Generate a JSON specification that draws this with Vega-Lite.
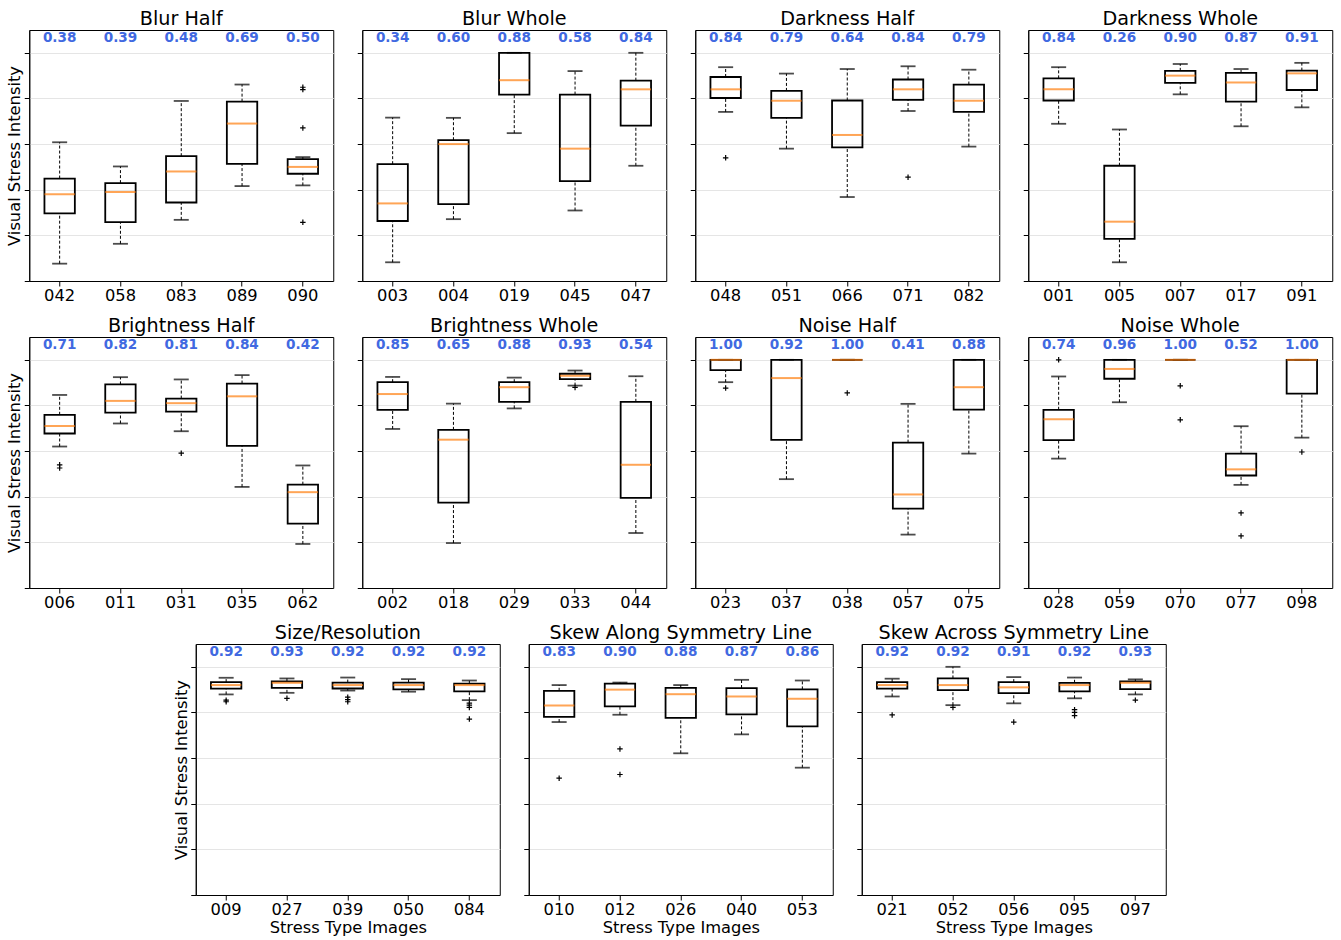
{
  "$schema": "https://vega.github.io/schema/vega-lite/v6.json",
  "background": "white",
  "padding": {"left": 6, "top": 9, "right": 4, "bottom": 3},
  "data": {"values": [
    {"p": "Blur Half", "img": "042", "lo": 0.076, "q1": 0.296, "med": 0.38, "q3": 0.449, "hi": 0.608},
    {"p": "Blur Half", "img": "058", "lo": 0.163, "q1": 0.258, "med": 0.39, "q3": 0.429, "hi": 0.502},
    {"p": "Blur Half", "img": "083", "lo": 0.268, "q1": 0.344, "med": 0.48, "q3": 0.547, "hi": 0.789},
    {"p": "Blur Half", "img": "089", "lo": 0.416, "q1": 0.513, "med": 0.69, "q3": 0.786, "hi": 0.861},
    {"p": "Blur Half", "img": "090", "lo": 0.419, "q1": 0.470, "med": 0.50, "q3": 0.534, "hi": 0.543},
    {"p": "Blur Half", "img": "090", "out": 0.849},
    {"p": "Blur Half", "img": "090", "out": 0.839},
    {"p": "Blur Half", "img": "090", "out": 0.671},
    {"p": "Blur Half", "img": "090", "out": 0.257},

    {"p": "Blur Whole", "img": "003", "lo": 0.082, "q1": 0.263, "med": 0.34, "q3": 0.512, "hi": 0.716},
    {"p": "Blur Whole", "img": "004", "lo": 0.271, "q1": 0.337, "med": 0.60, "q3": 0.617, "hi": 0.715},
    {"p": "Blur Whole", "img": "019", "lo": 0.648, "q1": 0.817, "med": 0.88, "q3": 1.0, "hi": 1.0},
    {"p": "Blur Whole", "img": "045", "lo": 0.309, "q1": 0.438, "med": 0.58, "q3": 0.817, "hi": 0.920},
    {"p": "Blur Whole", "img": "047", "lo": 0.505, "q1": 0.681, "med": 0.84, "q3": 0.878, "hi": 1.0},

    {"p": "Darkness Half", "img": "048", "lo": 0.741, "q1": 0.802, "med": 0.84, "q3": 0.894, "hi": 0.937},
    {"p": "Darkness Half", "img": "048", "out": 0.540},
    {"p": "Darkness Half", "img": "051", "lo": 0.580, "q1": 0.715, "med": 0.79, "q3": 0.833, "hi": 0.909},
    {"p": "Darkness Half", "img": "066", "lo": 0.368, "q1": 0.586, "med": 0.64, "q3": 0.791, "hi": 0.929},
    {"p": "Darkness Half", "img": "071", "lo": 0.745, "q1": 0.794, "med": 0.84, "q3": 0.883, "hi": 0.941},
    {"p": "Darkness Half", "img": "071", "out": 0.455},
    {"p": "Darkness Half", "img": "082", "lo": 0.589, "q1": 0.741, "med": 0.79, "q3": 0.861, "hi": 0.926},

    {"p": "Darkness Whole", "img": "001", "lo": 0.689, "q1": 0.791, "med": 0.84, "q3": 0.888, "hi": 0.937},
    {"p": "Darkness Whole", "img": "005", "lo": 0.082, "q1": 0.185, "med": 0.26, "q3": 0.505, "hi": 0.664},
    {"p": "Darkness Whole", "img": "007", "lo": 0.818, "q1": 0.868, "med": 0.90, "q3": 0.921, "hi": 0.951},
    {"p": "Darkness Whole", "img": "017", "lo": 0.678, "q1": 0.786, "med": 0.87, "q3": 0.912, "hi": 0.929},
    {"p": "Darkness Whole", "img": "091", "lo": 0.761, "q1": 0.837, "med": 0.91, "q3": 0.922, "hi": 0.956},

    {"p": "Brightness Half", "img": "006", "lo": 0.620, "q1": 0.677, "med": 0.71, "q3": 0.759, "hi": 0.846},
    {"p": "Brightness Half", "img": "006", "out": 0.540},
    {"p": "Brightness Half", "img": "006", "out": 0.526},
    {"p": "Brightness Half", "img": "011", "lo": 0.721, "q1": 0.769, "med": 0.82, "q3": 0.892, "hi": 0.924},
    {"p": "Brightness Half", "img": "031", "lo": 0.687, "q1": 0.773, "med": 0.81, "q3": 0.830, "hi": 0.914},
    {"p": "Brightness Half", "img": "031", "out": 0.591},
    {"p": "Brightness Half", "img": "035", "lo": 0.443, "q1": 0.623, "med": 0.84, "q3": 0.896, "hi": 0.933},
    {"p": "Brightness Half", "img": "062", "lo": 0.193, "q1": 0.282, "med": 0.42, "q3": 0.453, "hi": 0.537},

    {"p": "Brightness Whole", "img": "002", "lo": 0.697, "q1": 0.781, "med": 0.85, "q3": 0.902, "hi": 0.925},
    {"p": "Brightness Whole", "img": "018", "lo": 0.197, "q1": 0.374, "med": 0.65, "q3": 0.693, "hi": 0.808},
    {"p": "Brightness Whole", "img": "029", "lo": 0.787, "q1": 0.816, "med": 0.88, "q3": 0.902, "hi": 0.922},
    {"p": "Brightness Whole", "img": "033", "lo": 0.887, "q1": 0.915, "med": 0.93, "q3": 0.939, "hi": 0.953},
    {"p": "Brightness Whole", "img": "033", "out": 0.879},
    {"p": "Brightness Whole", "img": "044", "lo": 0.241, "q1": 0.395, "med": 0.54, "q3": 0.816, "hi": 0.928},

    {"p": "Noise Half", "img": "023", "lo": 0.902, "q1": 0.955, "med": 1.00, "q3": 1.0, "hi": 1.0},
    {"p": "Noise Half", "img": "023", "out": 0.876},
    {"p": "Noise Half", "img": "037", "lo": 0.477, "q1": 0.649, "med": 0.92, "q3": 1.0, "hi": 1.0},
    {"p": "Noise Half", "img": "038", "lo": 1.0, "q1": 1.0, "med": 1.00, "q3": 1.0, "hi": 1.0},
    {"p": "Noise Half", "img": "038", "out": 0.855},
    {"p": "Noise Half", "img": "057", "lo": 0.234, "q1": 0.348, "med": 0.41, "q3": 0.637, "hi": 0.807},
    {"p": "Noise Half", "img": "075", "lo": 0.589, "q1": 0.782, "med": 0.88, "q3": 1.0, "hi": 1.0},

    {"p": "Noise Whole", "img": "028", "lo": 0.567, "q1": 0.648, "med": 0.74, "q3": 0.781, "hi": 0.927},
    {"p": "Noise Whole", "img": "028", "out": 1.0},
    {"p": "Noise Whole", "img": "059", "lo": 0.814, "q1": 0.917, "med": 0.96, "q3": 1.0, "hi": 1.0},
    {"p": "Noise Whole", "img": "070", "lo": 1.0, "q1": 1.0, "med": 1.00, "q3": 1.0, "hi": 1.0},
    {"p": "Noise Whole", "img": "070", "out": 0.886},
    {"p": "Noise Whole", "img": "070", "out": 0.737},
    {"p": "Noise Whole", "img": "077", "lo": 0.452, "q1": 0.493, "med": 0.52, "q3": 0.589, "hi": 0.709},
    {"p": "Noise Whole", "img": "077", "out": 0.329},
    {"p": "Noise Whole", "img": "077", "out": 0.228},
    {"p": "Noise Whole", "img": "098", "lo": 0.659, "q1": 0.852, "med": 1.00, "q3": 1.0, "hi": 1.0},
    {"p": "Noise Whole", "img": "098", "out": 0.596},

    {"p": "Size/Resolution", "img": "009", "lo": 0.879, "q1": 0.904, "med": 0.92, "q3": 0.933, "hi": 0.952},
    {"p": "Size/Resolution", "img": "009", "out": 0.854},
    {"p": "Size/Resolution", "img": "009", "out": 0.847},
    {"p": "Size/Resolution", "img": "027", "lo": 0.886, "q1": 0.908, "med": 0.93, "q3": 0.936, "hi": 0.949},
    {"p": "Size/Resolution", "img": "027", "out": 0.862},
    {"p": "Size/Resolution", "img": "039", "lo": 0.896, "q1": 0.905, "med": 0.92, "q3": 0.931, "hi": 0.953},
    {"p": "Size/Resolution", "img": "039", "out": 0.867},
    {"p": "Size/Resolution", "img": "039", "out": 0.856},
    {"p": "Size/Resolution", "img": "039", "out": 0.847},
    {"p": "Size/Resolution", "img": "050", "lo": 0.891, "q1": 0.901, "med": 0.92, "q3": 0.931, "hi": 0.946},
    {"p": "Size/Resolution", "img": "084", "lo": 0.854, "q1": 0.892, "med": 0.92, "q3": 0.926, "hi": 0.940},
    {"p": "Size/Resolution", "img": "084", "out": 0.841},
    {"p": "Size/Resolution", "img": "084", "out": 0.832},
    {"p": "Size/Resolution", "img": "084", "out": 0.822},
    {"p": "Size/Resolution", "img": "084", "out": 0.771},

    {"p": "Skew Along Symmetry Line", "img": "010", "lo": 0.758, "q1": 0.781, "med": 0.83, "q3": 0.895, "hi": 0.920},
    {"p": "Skew Along Symmetry Line", "img": "010", "out": 0.512},
    {"p": "Skew Along Symmetry Line", "img": "012", "lo": 0.790, "q1": 0.827, "med": 0.90, "q3": 0.926, "hi": 0.931},
    {"p": "Skew Along Symmetry Line", "img": "012", "out": 0.640},
    {"p": "Skew Along Symmetry Line", "img": "012", "out": 0.528},
    {"p": "Skew Along Symmetry Line", "img": "026", "lo": 0.621, "q1": 0.776, "med": 0.88, "q3": 0.908, "hi": 0.920},
    {"p": "Skew Along Symmetry Line", "img": "040", "lo": 0.704, "q1": 0.792, "med": 0.87, "q3": 0.907, "hi": 0.943},
    {"p": "Skew Along Symmetry Line", "img": "053", "lo": 0.558, "q1": 0.739, "med": 0.86, "q3": 0.901, "hi": 0.940},

    {"p": "Skew Across Symmetry Line", "img": "021", "lo": 0.870, "q1": 0.904, "med": 0.92, "q3": 0.933, "hi": 0.948},
    {"p": "Skew Across Symmetry Line", "img": "021", "out": 0.789},
    {"p": "Skew Across Symmetry Line", "img": "052", "lo": 0.832, "q1": 0.898, "med": 0.92, "q3": 0.949, "hi": 1.0},
    {"p": "Skew Across Symmetry Line", "img": "052", "out": 0.822},
    {"p": "Skew Across Symmetry Line", "img": "056", "lo": 0.840, "q1": 0.885, "med": 0.91, "q3": 0.933, "hi": 0.955},
    {"p": "Skew Across Symmetry Line", "img": "056", "out": 0.758},
    {"p": "Skew Across Symmetry Line", "img": "095", "lo": 0.862, "q1": 0.892, "med": 0.92, "q3": 0.930, "hi": 0.953},
    {"p": "Skew Across Symmetry Line", "img": "095", "out": 0.812},
    {"p": "Skew Across Symmetry Line", "img": "095", "out": 0.800},
    {"p": "Skew Across Symmetry Line", "img": "095", "out": 0.786},
    {"p": "Skew Across Symmetry Line", "img": "097", "lo": 0.879, "q1": 0.902, "med": 0.93, "q3": 0.936, "hi": 0.945},
    {"p": "Skew Across Symmetry Line", "img": "097", "out": 0.854}
  ]},
  "spacing": 12,
  "center": true,
  "vconcat": [
    {"spacing": 22, "hconcat": [
      {"title": "Blur Half", "width": 304, "height": 251,
       "transform": [{"filter": "datum.p == 'Blur Half'"}],
       "encoding": {"x": {"field": "img", "type": "nominal", "title": null, "scale": {"paddingInner": 0, "paddingOuter": 0}}},
       "layer": [
        {"transform": [{"filter": "isValid(datum.med)"}], "layer": [
          {"mark": {"type": "rule", "color": "black", "strokeWidth": 1, "strokeDash": [3, 2]}, "encoding": {"y": {"field": "lo", "type": "quantitative", "scale": {"domain": [0, 1.1], "nice": false}, "title": "Visual Stress Intensity"}, "y2": {"field": "q1"}}},
          {"mark": {"type": "rule", "color": "black", "strokeWidth": 1, "strokeDash": [3, 2]}, "encoding": {"y": {"field": "q3", "type": "quantitative", "scale": {"domain": [0, 1.1], "nice": false}, "title": "Visual Stress Intensity"}, "y2": {"field": "hi"}}},
          {"mark": {"type": "tick", "color": "black", "size": 15, "thickness": 1.8}, "encoding": {"y": {"field": "lo", "type": "quantitative", "scale": {"domain": [0, 1.1], "nice": false}, "title": "Visual Stress Intensity"}}},
          {"mark": {"type": "tick", "color": "black", "size": 15, "thickness": 1.8}, "encoding": {"y": {"field": "hi", "type": "quantitative", "scale": {"domain": [0, 1.1], "nice": false}, "title": "Visual Stress Intensity"}}},
          {"mark": {"type": "bar", "width": {"band": 0.5}, "fillOpacity": 0, "stroke": "black", "strokeWidth": 1.8}, "encoding": {"y": {"field": "q1", "type": "quantitative", "scale": {"domain": [0, 1.1], "nice": false}, "title": "Visual Stress Intensity"}, "y2": {"field": "q3"}}},
          {"mark": {"type": "tick", "color": "#ff7f0e", "size": 30.4, "thickness": 2}, "encoding": {"y": {"field": "med", "type": "quantitative", "scale": {"domain": [0, 1.1], "nice": false}, "title": "Visual Stress Intensity"}}},
          {"mark": {"type": "text", "color": "#4169e1", "fontWeight": "bold", "fontSize": 13.6}, "encoding": {"y": {"datum": 1.065, "type": "quantitative", "scale": {"domain": [0, 1.1], "nice": false}, "title": "Visual Stress Intensity"}, "text": {"field": "med", "type": "quantitative", "format": ".2f"}}}
        ]},
        {"transform": [{"filter": "isValid(datum.out)"}], "mark": {"type": "point", "shape": "M-1,0H1M0,-1V1", "filled": false, "color": "black", "size": 30, "strokeWidth": 1.2, "opacity": 1}, "encoding": {"y": {"field": "out", "type": "quantitative", "scale": {"domain": [0, 1.1], "nice": false}, "title": "Visual Stress Intensity"}}}
       ]},
      {"title": "Blur Whole", "width": 304, "height": 251,
       "transform": [{"filter": "datum.p == 'Blur Whole'"}],
       "encoding": {"x": {"field": "img", "type": "nominal", "title": null, "scale": {"paddingInner": 0, "paddingOuter": 0}}},
       "layer": [
        {"transform": [{"filter": "isValid(datum.med)"}], "layer": [
          {"mark": {"type": "rule", "color": "black", "strokeWidth": 1, "strokeDash": [3, 2]}, "encoding": {"y": {"field": "lo", "type": "quantitative", "scale": {"domain": [0, 1.1], "nice": false}, "title": null}, "y2": {"field": "q1"}}},
          {"mark": {"type": "rule", "color": "black", "strokeWidth": 1, "strokeDash": [3, 2]}, "encoding": {"y": {"field": "q3", "type": "quantitative", "scale": {"domain": [0, 1.1], "nice": false}, "title": null}, "y2": {"field": "hi"}}},
          {"mark": {"type": "tick", "color": "black", "size": 15, "thickness": 1.8}, "encoding": {"y": {"field": "lo", "type": "quantitative", "scale": {"domain": [0, 1.1], "nice": false}, "title": null}}},
          {"mark": {"type": "tick", "color": "black", "size": 15, "thickness": 1.8}, "encoding": {"y": {"field": "hi", "type": "quantitative", "scale": {"domain": [0, 1.1], "nice": false}, "title": null}}},
          {"mark": {"type": "bar", "width": {"band": 0.5}, "fillOpacity": 0, "stroke": "black", "strokeWidth": 1.8}, "encoding": {"y": {"field": "q1", "type": "quantitative", "scale": {"domain": [0, 1.1], "nice": false}, "title": null}, "y2": {"field": "q3"}}},
          {"mark": {"type": "tick", "color": "#ff7f0e", "size": 30.4, "thickness": 2}, "encoding": {"y": {"field": "med", "type": "quantitative", "scale": {"domain": [0, 1.1], "nice": false}, "title": null}}},
          {"mark": {"type": "text", "color": "#4169e1", "fontWeight": "bold", "fontSize": 13.6}, "encoding": {"y": {"datum": 1.065, "type": "quantitative", "scale": {"domain": [0, 1.1], "nice": false}, "title": null}, "text": {"field": "med", "type": "quantitative", "format": ".2f"}}}
        ]},
        {"transform": [{"filter": "isValid(datum.out)"}], "mark": {"type": "point", "shape": "M-1,0H1M0,-1V1", "filled": false, "color": "black", "size": 30, "strokeWidth": 1.2, "opacity": 1}, "encoding": {"y": {"field": "out", "type": "quantitative", "scale": {"domain": [0, 1.1], "nice": false}, "title": null}}}
       ]},
      {"title": "Darkness Half", "width": 304, "height": 251,
       "transform": [{"filter": "datum.p == 'Darkness Half'"}],
       "encoding": {"x": {"field": "img", "type": "nominal", "title": null, "scale": {"paddingInner": 0, "paddingOuter": 0}}},
       "layer": [
        {"transform": [{"filter": "isValid(datum.med)"}], "layer": [
          {"mark": {"type": "rule", "color": "black", "strokeWidth": 1, "strokeDash": [3, 2]}, "encoding": {"y": {"field": "lo", "type": "quantitative", "scale": {"domain": [0, 1.1], "nice": false}, "title": null}, "y2": {"field": "q1"}}},
          {"mark": {"type": "rule", "color": "black", "strokeWidth": 1, "strokeDash": [3, 2]}, "encoding": {"y": {"field": "q3", "type": "quantitative", "scale": {"domain": [0, 1.1], "nice": false}, "title": null}, "y2": {"field": "hi"}}},
          {"mark": {"type": "tick", "color": "black", "size": 15, "thickness": 1.8}, "encoding": {"y": {"field": "lo", "type": "quantitative", "scale": {"domain": [0, 1.1], "nice": false}, "title": null}}},
          {"mark": {"type": "tick", "color": "black", "size": 15, "thickness": 1.8}, "encoding": {"y": {"field": "hi", "type": "quantitative", "scale": {"domain": [0, 1.1], "nice": false}, "title": null}}},
          {"mark": {"type": "bar", "width": {"band": 0.5}, "fillOpacity": 0, "stroke": "black", "strokeWidth": 1.8}, "encoding": {"y": {"field": "q1", "type": "quantitative", "scale": {"domain": [0, 1.1], "nice": false}, "title": null}, "y2": {"field": "q3"}}},
          {"mark": {"type": "tick", "color": "#ff7f0e", "size": 30.4, "thickness": 2}, "encoding": {"y": {"field": "med", "type": "quantitative", "scale": {"domain": [0, 1.1], "nice": false}, "title": null}}},
          {"mark": {"type": "text", "color": "#4169e1", "fontWeight": "bold", "fontSize": 13.6}, "encoding": {"y": {"datum": 1.065, "type": "quantitative", "scale": {"domain": [0, 1.1], "nice": false}, "title": null}, "text": {"field": "med", "type": "quantitative", "format": ".2f"}}}
        ]},
        {"transform": [{"filter": "isValid(datum.out)"}], "mark": {"type": "point", "shape": "M-1,0H1M0,-1V1", "filled": false, "color": "black", "size": 30, "strokeWidth": 1.2, "opacity": 1}, "encoding": {"y": {"field": "out", "type": "quantitative", "scale": {"domain": [0, 1.1], "nice": false}, "title": null}}}
       ]},
      {"title": "Darkness Whole", "width": 304, "height": 251,
       "transform": [{"filter": "datum.p == 'Darkness Whole'"}],
       "encoding": {"x": {"field": "img", "type": "nominal", "title": null, "scale": {"paddingInner": 0, "paddingOuter": 0}}},
       "layer": [
        {"transform": [{"filter": "isValid(datum.med)"}], "layer": [
          {"mark": {"type": "rule", "color": "black", "strokeWidth": 1, "strokeDash": [3, 2]}, "encoding": {"y": {"field": "lo", "type": "quantitative", "scale": {"domain": [0, 1.1], "nice": false}, "title": null}, "y2": {"field": "q1"}}},
          {"mark": {"type": "rule", "color": "black", "strokeWidth": 1, "strokeDash": [3, 2]}, "encoding": {"y": {"field": "q3", "type": "quantitative", "scale": {"domain": [0, 1.1], "nice": false}, "title": null}, "y2": {"field": "hi"}}},
          {"mark": {"type": "tick", "color": "black", "size": 15, "thickness": 1.8}, "encoding": {"y": {"field": "lo", "type": "quantitative", "scale": {"domain": [0, 1.1], "nice": false}, "title": null}}},
          {"mark": {"type": "tick", "color": "black", "size": 15, "thickness": 1.8}, "encoding": {"y": {"field": "hi", "type": "quantitative", "scale": {"domain": [0, 1.1], "nice": false}, "title": null}}},
          {"mark": {"type": "bar", "width": {"band": 0.5}, "fillOpacity": 0, "stroke": "black", "strokeWidth": 1.8}, "encoding": {"y": {"field": "q1", "type": "quantitative", "scale": {"domain": [0, 1.1], "nice": false}, "title": null}, "y2": {"field": "q3"}}},
          {"mark": {"type": "tick", "color": "#ff7f0e", "size": 30.4, "thickness": 2}, "encoding": {"y": {"field": "med", "type": "quantitative", "scale": {"domain": [0, 1.1], "nice": false}, "title": null}}},
          {"mark": {"type": "text", "color": "#4169e1", "fontWeight": "bold", "fontSize": 13.6}, "encoding": {"y": {"datum": 1.065, "type": "quantitative", "scale": {"domain": [0, 1.1], "nice": false}, "title": null}, "text": {"field": "med", "type": "quantitative", "format": ".2f"}}}
        ]},
        {"transform": [{"filter": "isValid(datum.out)"}], "mark": {"type": "point", "shape": "M-1,0H1M0,-1V1", "filled": false, "color": "black", "size": 30, "strokeWidth": 1.2, "opacity": 1}, "encoding": {"y": {"field": "out", "type": "quantitative", "scale": {"domain": [0, 1.1], "nice": false}, "title": null}}}
       ]}
    ]},
    {"spacing": 22, "hconcat": [
      {"title": "Brightness Half", "width": 304, "height": 251,
       "transform": [{"filter": "datum.p == 'Brightness Half'"}],
       "encoding": {"x": {"field": "img", "type": "nominal", "title": null, "scale": {"paddingInner": 0, "paddingOuter": 0}}},
       "layer": [
        {"transform": [{"filter": "isValid(datum.med)"}], "layer": [
          {"mark": {"type": "rule", "color": "black", "strokeWidth": 1, "strokeDash": [3, 2]}, "encoding": {"y": {"field": "lo", "type": "quantitative", "scale": {"domain": [0, 1.1], "nice": false}, "title": "Visual Stress Intensity"}, "y2": {"field": "q1"}}},
          {"mark": {"type": "rule", "color": "black", "strokeWidth": 1, "strokeDash": [3, 2]}, "encoding": {"y": {"field": "q3", "type": "quantitative", "scale": {"domain": [0, 1.1], "nice": false}, "title": "Visual Stress Intensity"}, "y2": {"field": "hi"}}},
          {"mark": {"type": "tick", "color": "black", "size": 15, "thickness": 1.8}, "encoding": {"y": {"field": "lo", "type": "quantitative", "scale": {"domain": [0, 1.1], "nice": false}, "title": "Visual Stress Intensity"}}},
          {"mark": {"type": "tick", "color": "black", "size": 15, "thickness": 1.8}, "encoding": {"y": {"field": "hi", "type": "quantitative", "scale": {"domain": [0, 1.1], "nice": false}, "title": "Visual Stress Intensity"}}},
          {"mark": {"type": "bar", "width": {"band": 0.5}, "fillOpacity": 0, "stroke": "black", "strokeWidth": 1.8}, "encoding": {"y": {"field": "q1", "type": "quantitative", "scale": {"domain": [0, 1.1], "nice": false}, "title": "Visual Stress Intensity"}, "y2": {"field": "q3"}}},
          {"mark": {"type": "tick", "color": "#ff7f0e", "size": 30.4, "thickness": 2}, "encoding": {"y": {"field": "med", "type": "quantitative", "scale": {"domain": [0, 1.1], "nice": false}, "title": "Visual Stress Intensity"}}},
          {"mark": {"type": "text", "color": "#4169e1", "fontWeight": "bold", "fontSize": 13.6}, "encoding": {"y": {"datum": 1.065, "type": "quantitative", "scale": {"domain": [0, 1.1], "nice": false}, "title": "Visual Stress Intensity"}, "text": {"field": "med", "type": "quantitative", "format": ".2f"}}}
        ]},
        {"transform": [{"filter": "isValid(datum.out)"}], "mark": {"type": "point", "shape": "M-1,0H1M0,-1V1", "filled": false, "color": "black", "size": 30, "strokeWidth": 1.2, "opacity": 1}, "encoding": {"y": {"field": "out", "type": "quantitative", "scale": {"domain": [0, 1.1], "nice": false}, "title": "Visual Stress Intensity"}}}
       ]},
      {"title": "Brightness Whole", "width": 304, "height": 251,
       "transform": [{"filter": "datum.p == 'Brightness Whole'"}],
       "encoding": {"x": {"field": "img", "type": "nominal", "title": null, "scale": {"paddingInner": 0, "paddingOuter": 0}}},
       "layer": [
        {"transform": [{"filter": "isValid(datum.med)"}], "layer": [
          {"mark": {"type": "rule", "color": "black", "strokeWidth": 1, "strokeDash": [3, 2]}, "encoding": {"y": {"field": "lo", "type": "quantitative", "scale": {"domain": [0, 1.1], "nice": false}, "title": null}, "y2": {"field": "q1"}}},
          {"mark": {"type": "rule", "color": "black", "strokeWidth": 1, "strokeDash": [3, 2]}, "encoding": {"y": {"field": "q3", "type": "quantitative", "scale": {"domain": [0, 1.1], "nice": false}, "title": null}, "y2": {"field": "hi"}}},
          {"mark": {"type": "tick", "color": "black", "size": 15, "thickness": 1.8}, "encoding": {"y": {"field": "lo", "type": "quantitative", "scale": {"domain": [0, 1.1], "nice": false}, "title": null}}},
          {"mark": {"type": "tick", "color": "black", "size": 15, "thickness": 1.8}, "encoding": {"y": {"field": "hi", "type": "quantitative", "scale": {"domain": [0, 1.1], "nice": false}, "title": null}}},
          {"mark": {"type": "bar", "width": {"band": 0.5}, "fillOpacity": 0, "stroke": "black", "strokeWidth": 1.8}, "encoding": {"y": {"field": "q1", "type": "quantitative", "scale": {"domain": [0, 1.1], "nice": false}, "title": null}, "y2": {"field": "q3"}}},
          {"mark": {"type": "tick", "color": "#ff7f0e", "size": 30.4, "thickness": 2}, "encoding": {"y": {"field": "med", "type": "quantitative", "scale": {"domain": [0, 1.1], "nice": false}, "title": null}}},
          {"mark": {"type": "text", "color": "#4169e1", "fontWeight": "bold", "fontSize": 13.6}, "encoding": {"y": {"datum": 1.065, "type": "quantitative", "scale": {"domain": [0, 1.1], "nice": false}, "title": null}, "text": {"field": "med", "type": "quantitative", "format": ".2f"}}}
        ]},
        {"transform": [{"filter": "isValid(datum.out)"}], "mark": {"type": "point", "shape": "M-1,0H1M0,-1V1", "filled": false, "color": "black", "size": 30, "strokeWidth": 1.2, "opacity": 1}, "encoding": {"y": {"field": "out", "type": "quantitative", "scale": {"domain": [0, 1.1], "nice": false}, "title": null}}}
       ]},
      {"title": "Noise Half", "width": 304, "height": 251,
       "transform": [{"filter": "datum.p == 'Noise Half'"}],
       "encoding": {"x": {"field": "img", "type": "nominal", "title": null, "scale": {"paddingInner": 0, "paddingOuter": 0}}},
       "layer": [
        {"transform": [{"filter": "isValid(datum.med)"}], "layer": [
          {"mark": {"type": "rule", "color": "black", "strokeWidth": 1, "strokeDash": [3, 2]}, "encoding": {"y": {"field": "lo", "type": "quantitative", "scale": {"domain": [0, 1.1], "nice": false}, "title": null}, "y2": {"field": "q1"}}},
          {"mark": {"type": "rule", "color": "black", "strokeWidth": 1, "strokeDash": [3, 2]}, "encoding": {"y": {"field": "q3", "type": "quantitative", "scale": {"domain": [0, 1.1], "nice": false}, "title": null}, "y2": {"field": "hi"}}},
          {"mark": {"type": "tick", "color": "black", "size": 15, "thickness": 1.8}, "encoding": {"y": {"field": "lo", "type": "quantitative", "scale": {"domain": [0, 1.1], "nice": false}, "title": null}}},
          {"mark": {"type": "tick", "color": "black", "size": 15, "thickness": 1.8}, "encoding": {"y": {"field": "hi", "type": "quantitative", "scale": {"domain": [0, 1.1], "nice": false}, "title": null}}},
          {"mark": {"type": "bar", "width": {"band": 0.5}, "fillOpacity": 0, "stroke": "black", "strokeWidth": 1.8}, "encoding": {"y": {"field": "q1", "type": "quantitative", "scale": {"domain": [0, 1.1], "nice": false}, "title": null}, "y2": {"field": "q3"}}},
          {"mark": {"type": "tick", "color": "#ff7f0e", "size": 30.4, "thickness": 2}, "encoding": {"y": {"field": "med", "type": "quantitative", "scale": {"domain": [0, 1.1], "nice": false}, "title": null}}},
          {"mark": {"type": "text", "color": "#4169e1", "fontWeight": "bold", "fontSize": 13.6}, "encoding": {"y": {"datum": 1.065, "type": "quantitative", "scale": {"domain": [0, 1.1], "nice": false}, "title": null}, "text": {"field": "med", "type": "quantitative", "format": ".2f"}}}
        ]},
        {"transform": [{"filter": "isValid(datum.out)"}], "mark": {"type": "point", "shape": "M-1,0H1M0,-1V1", "filled": false, "color": "black", "size": 30, "strokeWidth": 1.2, "opacity": 1}, "encoding": {"y": {"field": "out", "type": "quantitative", "scale": {"domain": [0, 1.1], "nice": false}, "title": null}}}
       ]},
      {"title": "Noise Whole", "width": 304, "height": 251,
       "transform": [{"filter": "datum.p == 'Noise Whole'"}],
       "encoding": {"x": {"field": "img", "type": "nominal", "title": null, "scale": {"paddingInner": 0, "paddingOuter": 0}}},
       "layer": [
        {"transform": [{"filter": "isValid(datum.med)"}], "layer": [
          {"mark": {"type": "rule", "color": "black", "strokeWidth": 1, "strokeDash": [3, 2]}, "encoding": {"y": {"field": "lo", "type": "quantitative", "scale": {"domain": [0, 1.1], "nice": false}, "title": null}, "y2": {"field": "q1"}}},
          {"mark": {"type": "rule", "color": "black", "strokeWidth": 1, "strokeDash": [3, 2]}, "encoding": {"y": {"field": "q3", "type": "quantitative", "scale": {"domain": [0, 1.1], "nice": false}, "title": null}, "y2": {"field": "hi"}}},
          {"mark": {"type": "tick", "color": "black", "size": 15, "thickness": 1.8}, "encoding": {"y": {"field": "lo", "type": "quantitative", "scale": {"domain": [0, 1.1], "nice": false}, "title": null}}},
          {"mark": {"type": "tick", "color": "black", "size": 15, "thickness": 1.8}, "encoding": {"y": {"field": "hi", "type": "quantitative", "scale": {"domain": [0, 1.1], "nice": false}, "title": null}}},
          {"mark": {"type": "bar", "width": {"band": 0.5}, "fillOpacity": 0, "stroke": "black", "strokeWidth": 1.8}, "encoding": {"y": {"field": "q1", "type": "quantitative", "scale": {"domain": [0, 1.1], "nice": false}, "title": null}, "y2": {"field": "q3"}}},
          {"mark": {"type": "tick", "color": "#ff7f0e", "size": 30.4, "thickness": 2}, "encoding": {"y": {"field": "med", "type": "quantitative", "scale": {"domain": [0, 1.1], "nice": false}, "title": null}}},
          {"mark": {"type": "text", "color": "#4169e1", "fontWeight": "bold", "fontSize": 13.6}, "encoding": {"y": {"datum": 1.065, "type": "quantitative", "scale": {"domain": [0, 1.1], "nice": false}, "title": null}, "text": {"field": "med", "type": "quantitative", "format": ".2f"}}}
        ]},
        {"transform": [{"filter": "isValid(datum.out)"}], "mark": {"type": "point", "shape": "M-1,0H1M0,-1V1", "filled": false, "color": "black", "size": 30, "strokeWidth": 1.2, "opacity": 1}, "encoding": {"y": {"field": "out", "type": "quantitative", "scale": {"domain": [0, 1.1], "nice": false}, "title": null}}}
       ]}
    ]},
    {"spacing": 22, "hconcat": [
      {"title": "Size/Resolution", "width": 304, "height": 251,
       "transform": [{"filter": "datum.p == 'Size/Resolution'"}],
       "encoding": {"x": {"field": "img", "type": "nominal", "title": "Stress Type Images", "scale": {"paddingInner": 0, "paddingOuter": 0}}},
       "layer": [
        {"transform": [{"filter": "isValid(datum.med)"}], "layer": [
          {"mark": {"type": "rule", "color": "black", "strokeWidth": 1, "strokeDash": [3, 2]}, "encoding": {"y": {"field": "lo", "type": "quantitative", "scale": {"domain": [0, 1.1], "nice": false}, "title": "Visual Stress Intensity"}, "y2": {"field": "q1"}}},
          {"mark": {"type": "rule", "color": "black", "strokeWidth": 1, "strokeDash": [3, 2]}, "encoding": {"y": {"field": "q3", "type": "quantitative", "scale": {"domain": [0, 1.1], "nice": false}, "title": "Visual Stress Intensity"}, "y2": {"field": "hi"}}},
          {"mark": {"type": "tick", "color": "black", "size": 15, "thickness": 1.8}, "encoding": {"y": {"field": "lo", "type": "quantitative", "scale": {"domain": [0, 1.1], "nice": false}, "title": "Visual Stress Intensity"}}},
          {"mark": {"type": "tick", "color": "black", "size": 15, "thickness": 1.8}, "encoding": {"y": {"field": "hi", "type": "quantitative", "scale": {"domain": [0, 1.1], "nice": false}, "title": "Visual Stress Intensity"}}},
          {"mark": {"type": "bar", "width": {"band": 0.5}, "fillOpacity": 0, "stroke": "black", "strokeWidth": 1.8}, "encoding": {"y": {"field": "q1", "type": "quantitative", "scale": {"domain": [0, 1.1], "nice": false}, "title": "Visual Stress Intensity"}, "y2": {"field": "q3"}}},
          {"mark": {"type": "tick", "color": "#ff7f0e", "size": 30.4, "thickness": 2}, "encoding": {"y": {"field": "med", "type": "quantitative", "scale": {"domain": [0, 1.1], "nice": false}, "title": "Visual Stress Intensity"}}},
          {"mark": {"type": "text", "color": "#4169e1", "fontWeight": "bold", "fontSize": 13.6}, "encoding": {"y": {"datum": 1.065, "type": "quantitative", "scale": {"domain": [0, 1.1], "nice": false}, "title": "Visual Stress Intensity"}, "text": {"field": "med", "type": "quantitative", "format": ".2f"}}}
        ]},
        {"transform": [{"filter": "isValid(datum.out)"}], "mark": {"type": "point", "shape": "M-1,0H1M0,-1V1", "filled": false, "color": "black", "size": 30, "strokeWidth": 1.2, "opacity": 1}, "encoding": {"y": {"field": "out", "type": "quantitative", "scale": {"domain": [0, 1.1], "nice": false}, "title": "Visual Stress Intensity"}}}
       ]},
      {"title": "Skew Along Symmetry Line", "width": 304, "height": 251,
       "transform": [{"filter": "datum.p == 'Skew Along Symmetry Line'"}],
       "encoding": {"x": {"field": "img", "type": "nominal", "title": "Stress Type Images", "scale": {"paddingInner": 0, "paddingOuter": 0}}},
       "layer": [
        {"transform": [{"filter": "isValid(datum.med)"}], "layer": [
          {"mark": {"type": "rule", "color": "black", "strokeWidth": 1, "strokeDash": [3, 2]}, "encoding": {"y": {"field": "lo", "type": "quantitative", "scale": {"domain": [0, 1.1], "nice": false}, "title": null}, "y2": {"field": "q1"}}},
          {"mark": {"type": "rule", "color": "black", "strokeWidth": 1, "strokeDash": [3, 2]}, "encoding": {"y": {"field": "q3", "type": "quantitative", "scale": {"domain": [0, 1.1], "nice": false}, "title": null}, "y2": {"field": "hi"}}},
          {"mark": {"type": "tick", "color": "black", "size": 15, "thickness": 1.8}, "encoding": {"y": {"field": "lo", "type": "quantitative", "scale": {"domain": [0, 1.1], "nice": false}, "title": null}}},
          {"mark": {"type": "tick", "color": "black", "size": 15, "thickness": 1.8}, "encoding": {"y": {"field": "hi", "type": "quantitative", "scale": {"domain": [0, 1.1], "nice": false}, "title": null}}},
          {"mark": {"type": "bar", "width": {"band": 0.5}, "fillOpacity": 0, "stroke": "black", "strokeWidth": 1.8}, "encoding": {"y": {"field": "q1", "type": "quantitative", "scale": {"domain": [0, 1.1], "nice": false}, "title": null}, "y2": {"field": "q3"}}},
          {"mark": {"type": "tick", "color": "#ff7f0e", "size": 30.4, "thickness": 2}, "encoding": {"y": {"field": "med", "type": "quantitative", "scale": {"domain": [0, 1.1], "nice": false}, "title": null}}},
          {"mark": {"type": "text", "color": "#4169e1", "fontWeight": "bold", "fontSize": 13.6}, "encoding": {"y": {"datum": 1.065, "type": "quantitative", "scale": {"domain": [0, 1.1], "nice": false}, "title": null}, "text": {"field": "med", "type": "quantitative", "format": ".2f"}}}
        ]},
        {"transform": [{"filter": "isValid(datum.out)"}], "mark": {"type": "point", "shape": "M-1,0H1M0,-1V1", "filled": false, "color": "black", "size": 30, "strokeWidth": 1.2, "opacity": 1}, "encoding": {"y": {"field": "out", "type": "quantitative", "scale": {"domain": [0, 1.1], "nice": false}, "title": null}}}
       ]},
      {"title": "Skew Across Symmetry Line", "width": 304, "height": 251,
       "transform": [{"filter": "datum.p == 'Skew Across Symmetry Line'"}],
       "encoding": {"x": {"field": "img", "type": "nominal", "title": "Stress Type Images", "scale": {"paddingInner": 0, "paddingOuter": 0}}},
       "layer": [
        {"transform": [{"filter": "isValid(datum.med)"}], "layer": [
          {"mark": {"type": "rule", "color": "black", "strokeWidth": 1, "strokeDash": [3, 2]}, "encoding": {"y": {"field": "lo", "type": "quantitative", "scale": {"domain": [0, 1.1], "nice": false}, "title": null}, "y2": {"field": "q1"}}},
          {"mark": {"type": "rule", "color": "black", "strokeWidth": 1, "strokeDash": [3, 2]}, "encoding": {"y": {"field": "q3", "type": "quantitative", "scale": {"domain": [0, 1.1], "nice": false}, "title": null}, "y2": {"field": "hi"}}},
          {"mark": {"type": "tick", "color": "black", "size": 15, "thickness": 1.8}, "encoding": {"y": {"field": "lo", "type": "quantitative", "scale": {"domain": [0, 1.1], "nice": false}, "title": null}}},
          {"mark": {"type": "tick", "color": "black", "size": 15, "thickness": 1.8}, "encoding": {"y": {"field": "hi", "type": "quantitative", "scale": {"domain": [0, 1.1], "nice": false}, "title": null}}},
          {"mark": {"type": "bar", "width": {"band": 0.5}, "fillOpacity": 0, "stroke": "black", "strokeWidth": 1.8}, "encoding": {"y": {"field": "q1", "type": "quantitative", "scale": {"domain": [0, 1.1], "nice": false}, "title": null}, "y2": {"field": "q3"}}},
          {"mark": {"type": "tick", "color": "#ff7f0e", "size": 30.4, "thickness": 2}, "encoding": {"y": {"field": "med", "type": "quantitative", "scale": {"domain": [0, 1.1], "nice": false}, "title": null}}},
          {"mark": {"type": "text", "color": "#4169e1", "fontWeight": "bold", "fontSize": 13.6}, "encoding": {"y": {"datum": 1.065, "type": "quantitative", "scale": {"domain": [0, 1.1], "nice": false}, "title": null}, "text": {"field": "med", "type": "quantitative", "format": ".2f"}}}
        ]},
        {"transform": [{"filter": "isValid(datum.out)"}], "mark": {"type": "point", "shape": "M-1,0H1M0,-1V1", "filled": false, "color": "black", "size": 30, "strokeWidth": 1.2, "opacity": 1}, "encoding": {"y": {"field": "out", "type": "quantitative", "scale": {"domain": [0, 1.1], "nice": false}, "title": null}}}
       ]}
    ]}
  ],
  "config": {
    "font": "DejaVu Sans",
    "view": {"stroke": "black", "strokeWidth": 1},
    "axis": {"labelFont": "DejaVu Sans", "titleFont": "DejaVu Sans", "labelFontSize": 16.3, "titleFontSize": 16.3, "titleFontWeight": "normal", "labelColor": "black", "titleColor": "black", "domainColor": "black", "tickColor": "black", "tickSize": 5, "domainWidth": 1, "tickWidth": 1},
    "axisX": {"labelAngle": 0, "labelPadding": 1, "titlePadding": 2, "grid": false},
    "axisY": {"labels": false, "values": [0, 0.2, 0.4, 0.6, 0.8, 1.0], "grid": true, "gridColor": "#e5e5e5", "gridWidth": 1, "titlePadding": 1},
    "title": {"fontSize": 19.2, "fontWeight": "normal", "font": "DejaVu Sans", "color": "black", "offset": 1, "baseline": "alphabetic"}
  }
}
